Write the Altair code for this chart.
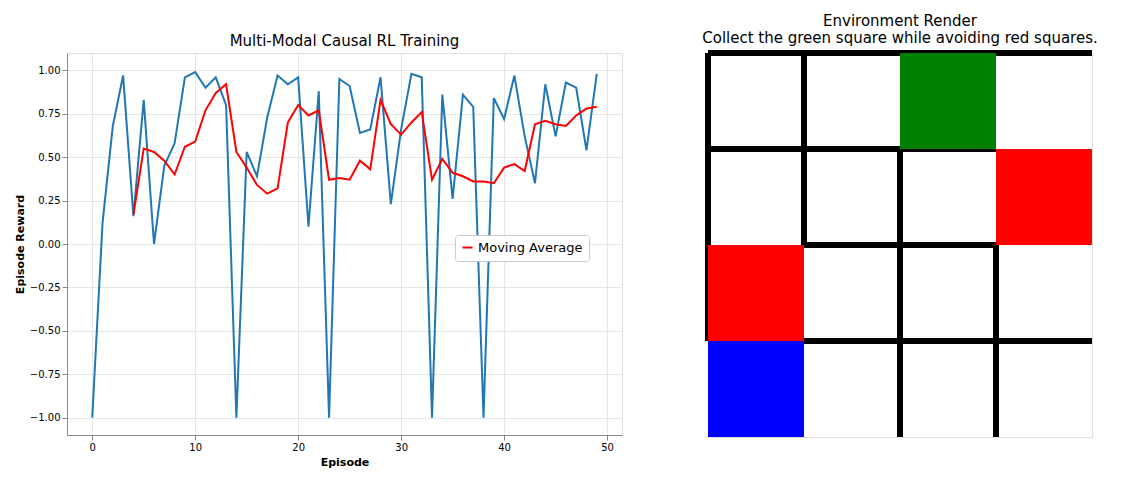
import altair as alt
import pandas as pd

episodes = list(range(50))
rewards = [-1.0,0.12,0.68,0.97,0.16,0.83,0.0,0.45,0.58,0.96,0.99,0.90,0.96,0.80,-1.0,0.53,0.39,0.73,0.97,0.92,
           0.96,0.10,0.88,-1.0,0.95,0.91,0.64,0.66,0.96,0.23,0.66,0.98,0.96,-1.0,0.86,0.26,0.86,0.79,-1.0,0.84,
           0.72,0.97,0.62,0.35,0.92,0.62,0.93,0.90,0.54,0.98]
ma_episodes = list(range(4, 50))
moving_avg = [0.17,0.55,0.53,0.48,0.40,0.56,0.59,0.77,0.87,0.92,0.53,0.44,0.34,0.29,0.32,0.70,0.80,0.74,0.77,0.37,
              0.38,0.37,0.48,0.43,0.83,0.69,0.63,0.70,0.76,0.37,0.49,0.41,0.39,0.36,0.36,0.35,0.44,0.46,0.42,0.69,
              0.71,0.69,0.68,0.74,0.78,0.79]

# grid lines (x1,y1,x2,y2) in cell units, y downward
seg_x1 = [0,0,1,2,3,0,1,1]
seg_y1 = [0,0,0,1,2,1,2,3]
seg_x2 = [4,0,1,2,3,3,3,4]
seg_y2 = [0,3,2,4,4,1,2,3]
sq_x = [2,3,0,0]
sq_y = [0,1,2,3]
sq_color = ["green","red","red","blue"]

df = pd.DataFrame({"Episode": episodes, "Reward": rewards})
dma = pd.DataFrame({"Episode": ma_episodes, "Reward": moving_avg, "s": "Moving Average"})

xs = alt.Scale(domain=[-2.45, 51.45], nice=False, zero=False)
ys = alt.Scale(domain=[-1.1, 1.1], nice=False, zero=False)
xax = alt.Axis(values=[0,10,20,30,40,50], title="Episode", grid=True, gridColor="#e6e6e6")
yax = alt.Axis(values=[-1,-0.75,-0.5,-0.25,0,0.25,0.5,0.75,1], format=".2f", title="Episode Reward",
               grid=True, gridColor="#e6e6e6")

line = alt.Chart(df).mark_line(color="#1f77b4", strokeWidth=2).encode(
    x=alt.X("Episode:Q", scale=xs, axis=xax), y=alt.Y("Reward:Q", scale=ys, axis=yax))
ma = alt.Chart(dma).mark_line(strokeWidth=2).encode(
    x=alt.X("Episode:Q", scale=xs), y=alt.Y("Reward:Q", scale=ys),
    color=alt.Color("s:N", scale=alt.Scale(domain=["Moving Average"], range=["red"]),
                    legend=alt.Legend(title=None, orient="none", legendX=388, legendY=182,
                                      fillColor="white", strokeColor="#cccccc", padding=6,
                                      labelFontSize=13, symbolType="stroke", symbolStrokeWidth=2,
                                      cornerRadius=3)))
left = (line + ma).properties(width=555, height=382,
                              title=alt.TitleParams("Multi-Modal Causal RL Training", fontSize=15, fontWeight="normal"))

dseg = pd.DataFrame({"x1": seg_x1, "y1": seg_y1, "x2": seg_x2, "y2": seg_y2})
dsq = pd.DataFrame({"x": sq_x, "y": sq_y, "c": sq_color})
dsq["xe"] = dsq["x"] + 1
dsq["ye"] = dsq["y"] + 1
gx = alt.Scale(domain=[0, 4], nice=False)
gy = alt.Scale(domain=[0, 4], nice=False, reverse=True)
rules = alt.Chart(dseg).mark_rule(color="black", strokeWidth=6).encode(
    x=alt.X("x1:Q", scale=gx, axis=None), y=alt.Y("y1:Q", scale=gy, axis=None), x2="x2:Q", y2="y2:Q")
squares = alt.Chart(dsq).mark_rect().encode(
    x=alt.X("x:Q", scale=gx, axis=None), x2="xe:Q",
    y=alt.Y("y:Q", scale=gy, axis=None), y2="ye:Q",
    color=alt.Color("c:N", scale=None))
right = (rules + squares).properties(width=384, height=384,
    title=alt.TitleParams(["Environment Render", "Collect the green square while avoiding red squares."],
                          fontSize=15, fontWeight="normal"))

chart = alt.hconcat(left, right, spacing=78).resolve_scale(color="independent").configure_view(
    stroke=None).configure_axis(labelFontSize=12, titleFontSize=12, titleFontWeight="normal",
    domainColor="black", tickColor="black", labelColor="black", titleColor="black"
).configure(font="DejaVu Sans")

left_frame = None
chart.save("out.html", embed_options={"renderer": "svg", "actions": False})
